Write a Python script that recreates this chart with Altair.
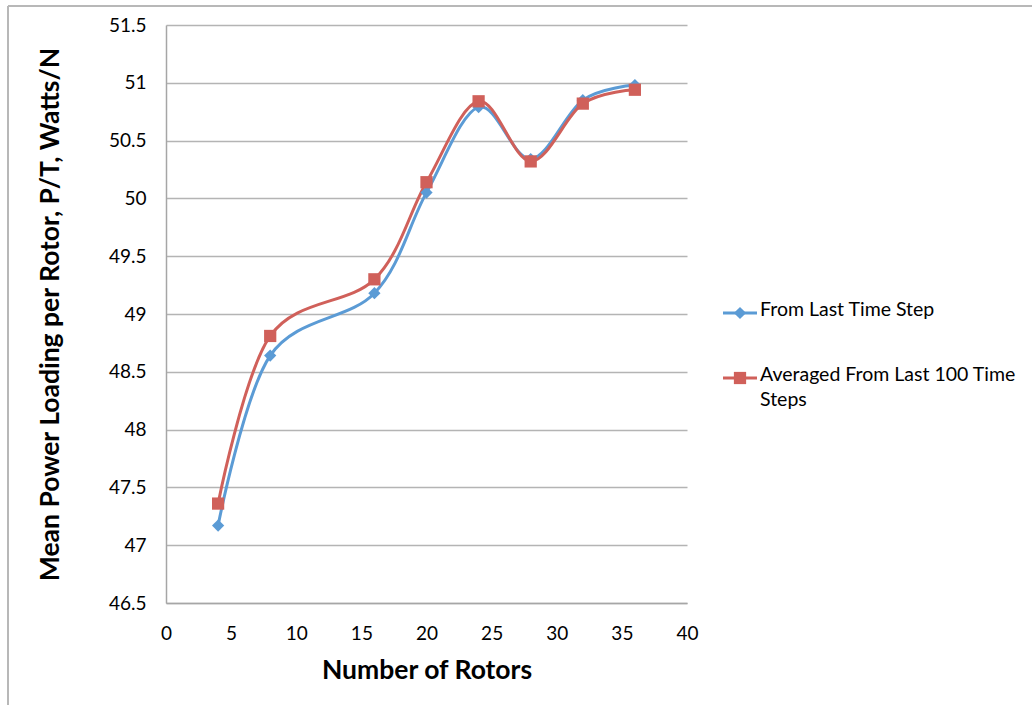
import altair as alt
import pandas as pd

rotors = [4, 8, 16, 20, 24, 28, 32, 36]
last_step = [47.17, 48.64, 49.18, 50.05, 50.79, 50.34, 50.85, 50.98]
avg_100 = [47.36, 48.81, 49.30, 50.14, 50.84, 50.32, 50.82, 50.94]
series_names = ["From Last Time Step", "Averaged From Last 100 Time Steps"]
legend_lines = [["From Last Time Step"], ["Averaged From Last 100 Time", "Steps"]]
colors = ["#5B9BD5", "#D0605A"]
shapes = ["diamond", "square"]

df = pd.DataFrame(
    [{"x": x, "y": y, "s": series_names[0]} for x, y in zip(rotors, last_step)]
    + [{"x": x, "y": y, "s": series_names[1]} for x, y in zip(rotors, avg_100)]
)

FONT = "Lato"
cscale = alt.Scale(domain=series_names, range=colors)

xenc = alt.X("x:Q", scale=alt.Scale(domain=[0, 40], nice=False),
             axis=alt.Axis(values=list(range(0, 41, 5)), title="Number of Rotors",
                           grid=False, ticks=False, labelPadding=21, labelFlush=False,
                           titlePadding=14))
yenc = alt.Y("y:Q", scale=alt.Scale(domain=[46.5, 51.5], nice=False, zero=False),
             axis=alt.Axis(values=[46.5 + 0.5 * i for i in range(11)], format=".3~g",
                           title="Mean Power Loading per Rotor, P/T, Watts/N",
                           grid=True, ticks=False, labelPadding=20, labelFlush=False,
                           titlePadding=44))

line = alt.Chart(df).mark_line(interpolate="cardinal", strokeWidth=3).encode(
    x=xenc, y=yenc, color=alt.Color("s:N", scale=cscale, legend=None),
)

points = alt.Chart(df).mark_point(filled=True, opacity=1, size=150).encode(
    x="x:Q", y="y:Q",
    color=alt.Color("s:N", scale=cscale, legend=None),
    shape=alt.Shape("s:N", scale=alt.Scale(domain=series_names, range=shapes), legend=None),
)

frame = alt.Chart(df).mark_rule(color="#b8b8b8", strokeWidth=1.5).encode(
    x=alt.value(-158), x2=alt.value(900), y=alt.value(-19)
)
frame2 = alt.Chart(df).mark_rule(color="#b8b8b8", strokeWidth=1.5).encode(
    x=alt.value(-158), y=alt.value(-19), y2=alt.value(700)
)

legend_layers = []
legend_y = [288, 353]
for i, name in enumerate(series_names):
    ldf = pd.DataFrame({"name": [name]})
    ly = legend_y[i]
    legend_layers.append(alt.Chart(ldf).mark_rule(color=colors[i], strokeWidth=3).encode(
        x=alt.value(557), x2=alt.value(591), y=alt.value(ly)))
    legend_layers.append(alt.Chart(ldf).mark_point(filled=True, opacity=1, size=150,
                                                    color=colors[i], shape=shapes[i]).encode(
        x=alt.value(574), y=alt.value(ly)))
    tdf = pd.DataFrame({"t": [legend_lines[i]]})
    legend_layers.append(alt.Chart(tdf).mark_text(
        align="left", baseline="top", font=FONT, fontSize=19.5, color="#000000",
        lineHeight=25, dy=-12).encode(
        x=alt.value(594), y=alt.value(ly), text="t"))

chart = alt.layer(line, points, frame, frame2, *legend_layers).properties(
    width=521, height=578,
    autosize=alt.AutoSizeParams(type="none"),
    padding={"left": 166, "top": 25, "right": 345, "bottom": 102},
    background="white",
).configure_view(stroke=None).configure_axis(
    labelFont=FONT, labelFontSize=19, labelColor="#000000",
    titleFont=FONT, titleFontSize=26.5, titleFontWeight="bold", titleColor="#000000",
    domainColor="#a6a6a6", domainWidth=1.5, gridColor="#b4b4b4", gridWidth=1.5,
)

chart.save("out.html", embed_options={"renderer": "svg", "actions": False})
